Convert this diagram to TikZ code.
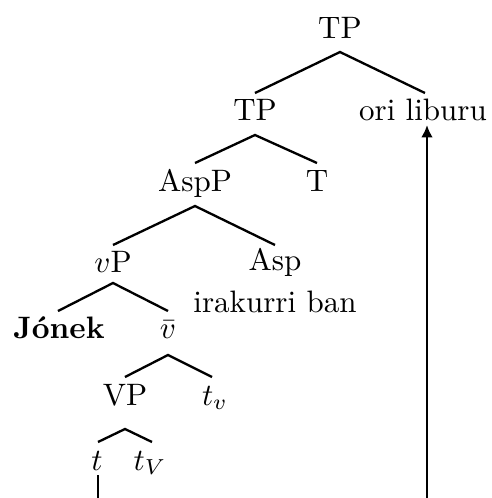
\documentclass[tikz,border=0pt]{standalone}
\usepackage{fontspec}
\usetikzlibrary{calc,arrows.meta}
\begin{document}
\begin{tikzpicture}[x=0.3226pt,y=-0.3226pt,
  lab/.style={anchor=base,inner sep=0pt},
  br/.style={line width=0.75pt},
  mv/.style={line width=0.9pt,-{Latex[length=4pt,width=3.8pt]}}]
\useasboundingbox (0,0) rectangle (492,498);
\clip (0,0) rectangle (492,498);
% nodes
\node[lab] (TP0) at (340,38) {TP};
\node[lab] (TP1) at (255,120) {TP};
\node[lab] (obj) at (423,120) {ori liburu};
\node[lab] (AspP) at (195,191) {AspP};
\node[lab] (T) at (317,191) {T};
\node[lab] (vP) at (113,272) {$v$P};
\node[lab] (Asp) at (275,270) {Asp};
\node[lab] (irak) at (275,312) {irakurri ban};
\node[lab] (Jonek) at (59,338) {\textbf{Jónek}};
\node[lab] (vbar) at (168,338) {$\bar{v}$};
\node[lab] (VP) at (125,405) {VP};
\node[lab] (tv) at (215,405) {$t_v$};
\node[lab] (t) at (97,470) {$t$};
\node[lab] (tV) at (150,470) {$t_V$};
% branches
\draw[br] ($(TP1.base)+(0,-27)$) -- ($(TP0.base)+(0,14)$) -- ($(obj.base)+(2,-27)$);
\draw[br] ($(AspP.base)+(0,-28)$) -- ($(TP1.base)+(0,15)$) -- ($(T.base)+(0,-28)$);
\draw[br] ($(vP.base)+(0,-27)$) -- ($(AspP.base)+(0,15)$) -- ($(Asp.base)+(0,-25)$);
\draw[br] ($(Jonek.base)+(-1,-27)$) -- ($(vP.base)+(0,11)$) -- ($(vbar.base)+(0,-27)$);
\draw[br] ($(VP.base)+(0,-28)$) -- ($(vbar.base)+(0,17)$) -- ($(tv.base)+(-3,-28)$);
\draw[br] ($(t.base)+(1,-28)$) -- ($(VP.base)+(0,24)$) -- ($(tV.base)+(2,-28)$);
% movement
\draw[mv] ($(t.base)+(1,5)$) -- ($(t.base)+(1,60)$) -- ($(obj.base)+(4,60+350)$) -- ($(obj.base)+(4,5)$);
\end{tikzpicture}
\end{document}
